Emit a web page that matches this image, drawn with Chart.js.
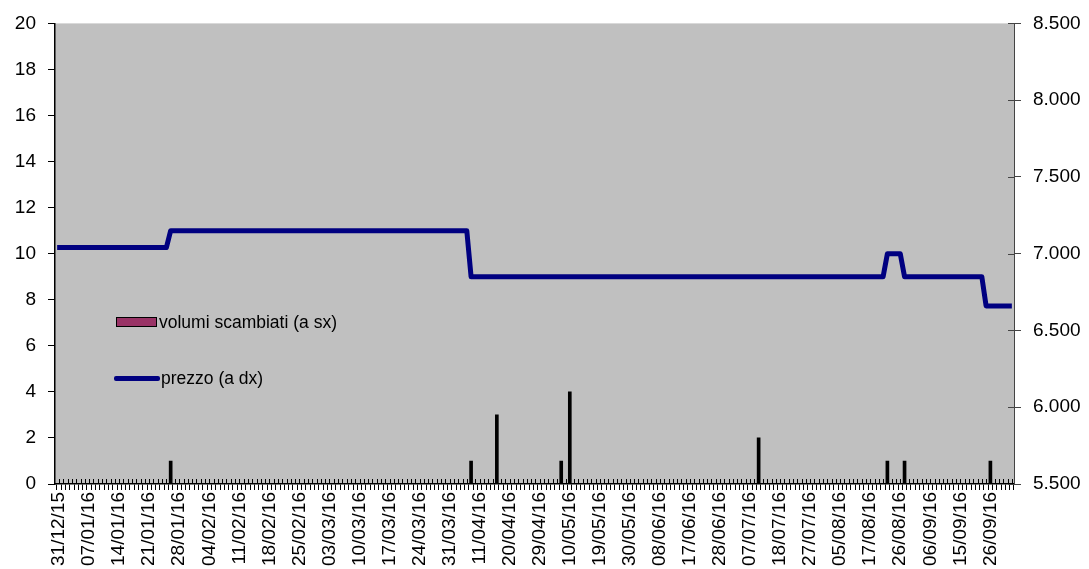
<!DOCTYPE html>
<html>
<head>
<meta charset="utf-8">
<script src="https://cdn.jsdelivr.net/npm/chart.js@4"></script>
<style>
  body { margin: 0; background: #fff; }
  #wrap { position: relative; width: 1089px; height: 569px; }
  .leg { position: absolute; font-family: "Liberation Sans", Arial, sans-serif; font-size: 17.5px; color: #000; line-height: 20px; }
</style>
</head>
<body>
<div id="wrap">
  <canvas id="grafico"></canvas>
  <div style="position:absolute;left:116px;top:317px;width:39px;height:8px;background:#993366;border:1.5px solid #000;"></div>
  <div class="leg" style="left:159px;top:312px;">volumi scambiati (a sx)</div>
  <div style="position:absolute;left:114px;top:376px;width:46px;height:5px;background:#000080;border-radius:2px;"></div>
  <div class="leg" style="left:161px;top:368px;">prezzo (a dx)</div>
</div>
<script>
// etichette dell'asse x (una ogni 7 sedute)
const tickDates = ['31/12/15', '07/01/16', '14/01/16', '21/01/16', '28/01/16', '04/02/16', '11/02/16',
  '18/02/16', '25/02/16', '03/03/16', '10/03/16', '17/03/16', '24/03/16', '31/03/16', '11/04/16',
  '20/04/16', '29/04/16', '10/05/16', '19/05/16', '30/05/16', '08/06/16', '17/06/16', '28/06/16',
  '07/07/16', '18/07/16', '27/07/16', '05/08/16', '17/08/16', '26/08/16', '06/09/16', '15/09/16', '26/09/16'];
const labelStep = 7;
const lastSession = 222;

// volumi scambiati (indice seduta, volume)
const volIdx = [26, 96, 102, 117, 119, 163, 193, 197, 217];
const volValues = [1, 1, 3, 1, 4, 2, 1, 1, 1];

// prezzo: vertici della spezzata (indice seduta, prezzo)
const priceIdx = [-0.45, 25, 26, 95, 96, 192, 193, 196, 197, 215, 216, 222];
const priceValues = [7040, 7040, 7150, 7150, 6850, 6850, 7000, 7000, 6850, 6850, 6660, 6660];

const leftTicks = [0, 20, 2];
const rightTicks = [5500, 8500, 500];

const FONT = { family: '"Liberation Sans", Arial, sans-serif', size: 19 };

const plotBg = {
  id: 'plotBg',
  beforeDraw(chart) {
    const a = chart.chartArea;
    const ctx = chart.ctx;
    ctx.save();
    ctx.fillStyle = '#c0c0c0';
    ctx.fillRect(a.left, a.top, a.right - a.left, a.bottom - a.top);
    ctx.restore();
  },
  // parte interna delle tacche (stile Excel, tacche che attraversano l'asse)
  afterDraw(chart) {
    const a = chart.chartArea;
    const ctx = chart.ctx;
    ctx.save();
    ctx.lineWidth = 1;
    ctx.strokeStyle = '#000';
    const sx = chart.scales.x;
    sx.ticks.forEach(t => {
      const px = Math.round(sx.getPixelForValue(t.value)) + 0.5;
      ctx.beginPath();
      ctx.moveTo(px, a.bottom);
      ctx.lineTo(px, a.bottom - 5);
      ctx.stroke();
    });
    ctx.strokeStyle = '#444';
    const sy = chart.scales.y1;
    sy.ticks.forEach(t => {
      const py = Math.round(sy.getPixelForValue(t.value)) + 0.5;
      ctx.beginPath();
      ctx.moveTo(a.right, py);
      ctx.lineTo(a.right - 6, py);
      ctx.stroke();
    });
    ctx.restore();
  }
};

const sessionTicks = [];
for (let i = 0; i <= lastSession; i++) sessionTicks.push({ value: i });

new Chart(document.getElementById('grafico').getContext('2d'), {
  type: 'bar',
  data: {
    datasets: [
      {
        type: 'line',
        label: 'prezzo (a dx)',
        data: priceIdx.map((x, i) => ({ x: x, y: priceValues[i] })),
        yAxisID: 'y1',
        borderColor: '#000080',
        borderWidth: 5,
        pointRadius: 0,
        tension: 0,
        borderJoinStyle: 'round',
        order: 1
      },
      {
        type: 'bar',
        label: 'volumi scambiati (a sx)',
        data: volIdx.map((x, i) => ({ x: x, y: volValues[i] })),
        yAxisID: 'y',
        backgroundColor: '#000',
        barThickness: 3,
        order: 2
      }
    ]
  },
  options: {
    responsive: true,
    maintainAspectRatio: false,
    animation: false,
    layout: { padding: { top: 22, left: 0, right: 0, bottom: 0 } },
    plugins: { legend: { display: false }, tooltip: { enabled: false } },
    scales: {
      x: {
        type: 'linear',
        position: 'bottom',
        min: -0.45,
        max: lastSession,
        afterBuildTicks: s => { s.ticks = sessionTicks.slice(); },
        afterFit: s => { s.height = 85; },
        grid: { drawOnChartArea: false, tickLength: 6, color: '#000' },
        border: { color: '#000', width: 1.5 },
        ticks: {
          autoSkip: false,
          minRotation: 90,
          maxRotation: 90,
          padding: 2,
          color: '#000',
          font: FONT,
          callback: v => (v % labelStep === 0 && tickDates[v / labelStep]) ? tickDates[v / labelStep] : ''
        }
      },
      y: {
        position: 'left',
        min: leftTicks[0],
        max: leftTicks[1],
        afterFit: s => { s.width = 55; },
        grid: { drawOnChartArea: false, tickLength: 7, color: '#000' },
        border: { color: '#000', width: 1.5 },
        ticks: { stepSize: leftTicks[2], padding: 12, color: '#000', font: FONT }
      },
      y1: {
        position: 'right',
        min: rightTicks[0],
        max: rightTicks[1],
        afterFit: s => { s.width = 75; },
        grid: { drawOnChartArea: false, tickLength: 7, color: '#444' },
        border: { color: '#444', width: 1 },
        ticks: {
          stepSize: rightTicks[2],
          padding: 12,
          color: '#000',
          font: FONT,
          callback: v => v.toLocaleString('it-IT', { minimumFractionDigits: 0 }).replace(/\s/g, '.')
        }
      }
    }
  },
  plugins: [plotBg]
});
</script>
</body>
</html>
